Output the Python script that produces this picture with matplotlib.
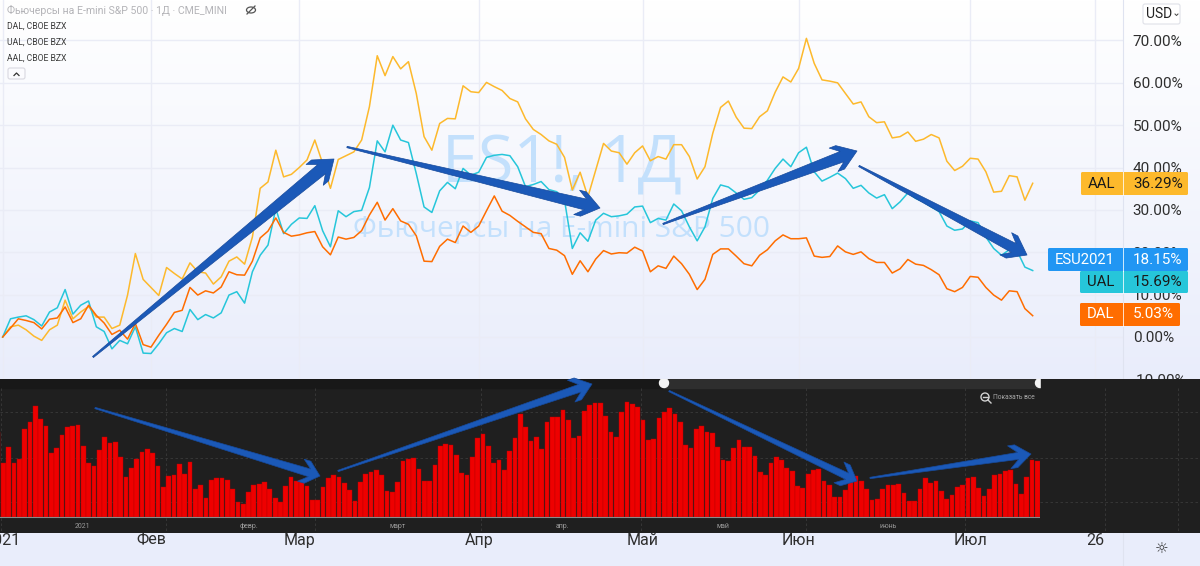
import numpy as np
import matplotlib
matplotlib.use("Agg")
import matplotlib.pyplot as plt
from matplotlib.patches import Polygon, FancyBboxPatch, Rectangle, Circle, Ellipse
from matplotlib.colors import LinearSegmentedColormap

plt.rcParams['font.family'] = ['Roboto', 'DejaVu Sans']

aal = [0,2.4,2.8,1.7,0.2,-0.8,1.7,2.8,8.7,4.3,5.9,7.2,4.7,4.7,2.0,2.8,9.9,19.7,13.6,11.7,9.8,16.4,15.0,13.7,17.5,15.4,15.1,12.5,14.2,17.9,18.9,17.2,23.6,35.1,36.6,44.1,37.8,38.4,40.0,41.8,46.5,41.0,35.1,41.9,42.8,43.7,46.5,54.4,66.4,61.7,66.2,
       63.3,65.0,57.5,47.3,44.1,50.4,51.6,51.5,59.3,57.9,57.7,60.1,59.1,58.2,56.3,55.5,51.5,49.0,47.8,46.3,45.5,42.4,34.7,38.9,33.1,39.4,45.7,43.9,43.5,40.8,43.5,45.1,41.6,42.6,42.0,45.4,45.4,42.6,37.3,40.2,48.1,54.2,55.7,51.9,49.3,49.2,52.0,53.4,57.8,61.4,60.2,63.4,
       70.5,64.6,60.7,60.4,60.0,57.5,55.0,55.5,52.0,50.6,50.8,47.0,47.3,48.4,46.2,46.7,47.8,47.0,41.5,39.3,40.3,42.2,42.0,39.0,34.2,34.4,38.1,37.8,32.3,36.29]
ual = [0,4.3,4.7,5.0,4.1,2.6,5.9,6.9,11.2,5.4,7.5,8.5,2.4,1.3,-2.8,-0.8,-1.6,2.4,-3.8,-3.9,-1.6,1.0,2.0,1.3,6.5,4.1,5.3,4.5,5.7,9.9,10.7,8.0,15.4,19.3,21.7,30.3,24.4,26.6,28.1,28.0,31.0,25.1,21.3,29.8,28.4,29.6,29.9,35.3,46.3,43.7,50.0,
       46.5,45.9,38.6,30.7,29.4,34.5,36.5,35.0,39.8,38.2,38.9,42.4,42.9,43.1,42.8,40.2,35.5,36.0,36.7,34.8,34.3,32.3,20.9,24.6,22.6,27.6,29.2,28.4,28.6,29.0,30.7,30.9,27.0,28.0,27.6,31.4,29.8,26.0,22.7,26.0,32.7,35.9,35.4,34.0,32.5,32.9,34.7,37.0,39.8,42.0,40.2,43.5,
       44.8,39.0,36.8,37.7,38.7,37.4,35.1,35.8,34.0,32.8,33.6,30.3,31.9,34.0,32.7,31.9,30.7,29.6,26.2,25.2,25.5,27.4,27.0,23.6,20.9,19.3,20.6,20.3,16.5,15.69]
dal = [0,2.1,4.3,3.9,3.4,1.9,4.2,4.5,7.1,3.4,4.3,7.5,5.1,3.3,0.6,1.6,-0.5,3.2,-1.8,-2.4,0.4,3.0,5.8,6.3,11.7,9.9,10.9,10.4,11.8,15.4,14.7,14.6,17.9,23.4,25.0,28.1,24.7,23.8,24.1,24.6,24.9,21.3,19.4,23.6,23.1,23.5,25.1,28.8,31.8,27.6,30.3,
       27.4,26.6,23.9,17.9,17.8,21.4,23.1,22.3,26.2,24.7,26.2,29.8,33.3,29.7,28.7,27.3,26.0,24.7,24.4,20.9,20.5,19.2,14.8,18.0,15.4,18.4,20.4,19.6,19.9,19.8,21.2,20.3,15.4,16.8,16.2,19.1,17.3,14.8,11.2,13.6,19.5,20.8,20.8,19.1,17.3,16.8,19.3,20.6,22.7,24.1,23.2,23.2,
       23.4,19.1,18.8,19.0,21.5,20.1,19.5,20.1,18.5,17.6,17.6,15.1,16.1,18.3,17.2,16.9,15.9,14.7,11.4,10.7,11.7,14.3,14.1,11.7,9.9,8.7,10.9,10.7,6.7,5.03]

month_ticks = [0, 19, 38, 61, 82, 102, 124, 140]
month_labels = ['2021', 'Фев', 'Мар', 'Апр', 'Май', 'Июн', 'Июл', '26']
pct_ticks = [-10, 0, 10, 20, 30, 40, 50, 60, 70]

# volume, arbitrary units
volume = [256,162,209,162,174,264,286,333,294,274,191,206,247,269,272,277,214,161,154,201,240,222,225,181,121,146,174,195,203,191,154,90,122,126,158,129,165,84,97,56,111,116,118,112,84,46,40,74,97,100,104,84,56,44,94,119,108,111,94,52,52,90,118,125,121,103,82,48,106,130,136,142,126,79,74,106,
          167,173,177,145,109,107,155,212,220,216,187,132,126,181,237,250,212,161,172,142,198,237,309,270,228,240,203,284,301,301,321,291,237,242,319,336,342,343,304,256,240,316,345,339,331,291,232,235,296,314,327,308,286,216,207,263,273,256,253,209,170,167,207,230,209,209,184,135,125,163,181,172,148,139,94,
          88,130,141,143,107,97,59,60,81,107,123,109,84,52,53,84,97,95,100,72,49,48,84,116,101,109,79,54,65,90,95,118,120,86,62,84,125,130,138,142,100,70,121,172,167]

FW, FH = 1200, 566
def rect(x0, y0, x1, y1):
    return [x0/FW, 1-y1/FH, (x1-x0)/FW, (y1-y0)/FH]

fig = plt.figure(figsize=(12, 5.66), dpi=100)
LIGHT = '#e9edfb'
fig.patch.set_facecolor(LIGHT)

# gradient background
bg = fig.add_axes(rect(0, 0, 1200, 400), zorder=0)
bg.imshow(np.linspace(0, 1, 256).reshape(-1, 1), aspect='auto',
          cmap=LinearSegmentedColormap.from_list('g', ['#ffffff', '#e8ecfb']))
bg.axis('off')

# main chart
ax = fig.add_axes(rect(0, 0, 1123, 400), zorder=1)
ax.patch.set_alpha(0)
n = len(aal)
x = np.arange(n)
S = 7.803
ax.set_xlim(-2.7/S, (1123-2.7)/S)
ax.set_ylim((337-400)/4.236, 337/4.236)
ax.yaxis.tick_right()
ax.set_yticks(pct_ticks)
ax.set_yticklabels([f'{v:.2f}%' for v in pct_ticks], fontsize=11, color='#2e2e2e')
ax.set_xticks(month_ticks)
ax.tick_params(axis='x', length=0, labelbottom=False)
ax.tick_params(axis='y', length=0, pad=7)
for lab in ax.get_yticklabels():
    lab.set_ha('left')
ax.grid(True, color='#eaecf6', lw=1)
ax.set_axisbelow(True)
for s in ax.spines.values():
    s.set_visible(False)
ax.spines['right'].set_visible(True)
ax.spines['right'].set_color('#dfe3f0')

ax.text((562-2.7)/S, (337-165)/4.236, 'ES1!, 1Д', ha='center', va='center',
        fontsize=46.5, color='#c3e0fc', zorder=1.5, family='Open Sans')
ax.text((562-2.7)/S, (337-229)/4.236, 'Фьючерсы на E-mini S&P 500', ha='center', va='center',
        fontsize=21.5, color='#c3e0fc', zorder=1.5, family='Open Sans')

ax.plot(x, aal, color='#fdb92c', lw=1.1, zorder=3, label='AAL')
ax.plot(x, ual, color='#26c6da', lw=1.1, zorder=3, label='UAL')
ax.plot(x, dal, color='#ff6d00', lw=1.1, zorder=3, label='DAL')

# time strip
st = fig.add_axes(rect(0, 533, 1123, 566), zorder=1, sharex=ax)
st.set_facecolor(LIGHT)
st.set_yticks([])
st.set_xticks(month_ticks)
st.set_xticklabels(month_labels, fontsize=11.5, color='#2e2e2e')
st.tick_params(axis='x', length=0, pad=-24, labelbottom=True)
for s in st.spines.values():
    s.set_visible(False)
st.spines['right'].set_visible(True)
st.spines['right'].set_color('#dfe3f0')

# dark panel
dark = fig.add_axes(rect(0, 379, 1200, 533), zorder=2)
dark.set_facecolor('#1f1f1f')
dark.set_xlim(0, 1200)
dark.set_ylim(533, 379)
dark.axis('off')
dark.add_patch(Rectangle((0, 379), 1200, 154, color='#1f1f1f', zorder=0))
dark.add_patch(Rectangle((0, 379), 664, 9, color='#181818', zorder=1))
dark.add_patch(Rectangle((664, 379), 376, 9, color='#2e2e2e', zorder=1))
for yy in (412, 458, 502):
    dark.plot([0, 1200], [yy, yy], color='#3a3a3a', lw=0.6, ls=(0, (3, 3)), zorder=1)
for xx in (1, 166, 315, 481, 641, 806, 965, 1105, 1178):
    dark.plot([xx, xx], [388, 533], color='#3a3a3a', lw=0.6, ls=(0, (3, 3)), zorder=1)
dark.add_patch(Circle((664, 383), 4.5, color='#f5f5f5', zorder=3))
dark.add_patch(Circle((1040, 383), 4.5, color='#f5f5f5', zorder=3))
dark.add_patch(Rectangle((1041, 378), 12, 11, color='#1f1f1f', zorder=3.5))
dark.add_patch(Circle((985, 397), 4, fill=False, ec='#d0d0d0', lw=1, zorder=3))
dark.plot([982.5, 987.5], [397, 397], color='#d0d0d0', lw=1, zorder=3)
dark.plot([988, 991], [400, 403], color='#d0d0d0', lw=1, zorder=3)
dark.text(993, 397.5, 'Показать все', fontsize=4.8, color='#a8a8a8', va='center', ha='left', zorder=3)
for txt, px in zip(['2021', 'февр.', 'март', 'апр.', 'май', 'июнь'], [83, 249, 398, 563, 723, 888]):
    dark.text(px, 526, txt, fontsize=5, color='#9a9a9a', ha='center', va='center', zorder=3)

# volume bars
vax = fig.add_axes(rect(0, 379, 1040, 533), zorder=3)
vax.patch.set_alpha(0)
SV = 5.33
vx = np.arange(len(volume))
vax.set_xlim(2/SV, 2/SV + 1040/SV)
vax.set_ylim(-48, 414)
vax.bar(vx, volume, width=0.88, color='#ee0000', edgecolor='#b80000', linewidth=0.3)
vax.axhline(0, color='#8a8a8a', lw=0.8)
vax.axis('off')

# overlay in figure pixels
ov = fig.add_axes([0, 0, 1, 1], zorder=4)
ov.set_xlim(0, FW)
ov.set_ylim(FH, 0)
ov.axis('off')

def arrow(x0, y0, x1, y1, neck=10, head=26, hl=26, notch=9):
    p0, p1 = np.array([x0, y0], float), np.array([x1, y1], float)
    d = (p1-p0)/np.hypot(*(p1-p0))
    nrm = np.array([-d[1], d[0]])
    back = p1 - d*hl
    nk = p1 - d*(hl-notch)
    pts = [p0-nrm*0.7, nk-nrm*neck/2, back-nrm*head/2, back-nrm*head/2+d*7, p1,
           back+nrm*head/2+d*7, back+nrm*head/2, nk+nrm*neck/2, p0+nrm*0.7]
    ov.add_patch(Polygon(pts, closed=True, fc='#1b59b8', ec='#164a9c', lw=0.5, joinstyle='round', zorder=5))

arrow(93, 357, 334, 159, neck=12, head=27, hl=25)
arrow(347, 147, 600, 208, neck=11, head=25, hl=24)
arrow(663, 224, 857, 151, neck=11, head=25, hl=25)
arrow(859, 166, 1027, 255, neck=10, head=25, hl=24)
arrow(95, 408, 320, 476, neck=8, head=23, hl=20)
arrow(338, 471, 592, 384, neck=8, head=23, hl=22)
arrow(669, 391, 857, 481, neck=7, head=23, hl=20)
arrow(870, 478, 1031, 454, neck=7, head=23, hl=22)

# header legend
ov.text(7, 10.5, 'Фьючерсы на E-mini S&P 500 · 1Д · CME_MINI', fontsize=7.6, color='#b4b4b8', va='center')
for yy, t in zip((26, 42, 58), ('DAL, CBOE BZX', 'UAL, CBOE BZX', 'AAL, CBOE BZX')):
    ov.text(7, yy, t, fontsize=6.2, color='#3a3a3a', va='center')
ov.add_patch(FancyBboxPatch((8, 68), 17, 11, boxstyle='round,pad=0,rounding_size=2', fc='#fbfbfe', ec='#d8d8e0', lw=0.8))
ov.plot([14, 16.5, 19], [75.5, 73, 75.5], color='#333333', lw=0.9)
ov.add_patch(Ellipse((251, 10), 9, 6, fill=False, ec='#555555', lw=0.9))
ov.plot([247, 255], [14, 6], color='#555555', lw=0.9)

# currency button
ov.add_patch(FancyBboxPatch((1143, 4), 37, 20, boxstyle='round,pad=0,rounding_size=2', fc='#ffffff', ec='#dfe1e8', lw=0.8))
ov.text(1146, 14, 'USD', fontsize=10, color='#222222', va='center')
ov.plot([1175, 1176.5, 1178], [14, 15.5, 14], color='#444444', lw=0.7)

# price tags
tags = [('AAL', '36.29%', 1081, 1188, 172, 195, '#fdb92c', '#1a1a1a'),
        ('UAL', '15.69%', 1080, 1188, 271, 293, '#26c6da', '#1a1a1a'),
        ('ESU2021', '18.15%', 1048, 1188, 248, 271, '#2196f3', '#ffffff'),
        ('DAL', '5.03%', 1080, 1180, 303, 326, '#ff6d00', '#ffffff')]
for name, val, x0, x1, y0, y1, col, tc in tags:
    ov.add_patch(FancyBboxPatch((x0, y0), x1-x0, y1-y0, boxstyle='round,pad=0,rounding_size=1.5', fc=col, ec='none', zorder=6))
    ov.plot([1122.5, 1122.5], [y0, y1], color='#ffffff', lw=0.7, alpha=0.8, zorder=6.5)
    ov.text(1133, (y0+y1)/2, val, fontsize=11, color=tc, va='center', ha='left', zorder=7)
    ov.text((x0+1122)/2, (y0+y1)/2, name, fontsize=10.7, color=tc, va='center', ha='center', zorder=7)

# settings icon
ov.text(1162, 549, '☼', fontsize=11, color='#333333', ha='center', va='center', family='DejaVu Sans')

fig.savefig('out.png', dpi=100)
